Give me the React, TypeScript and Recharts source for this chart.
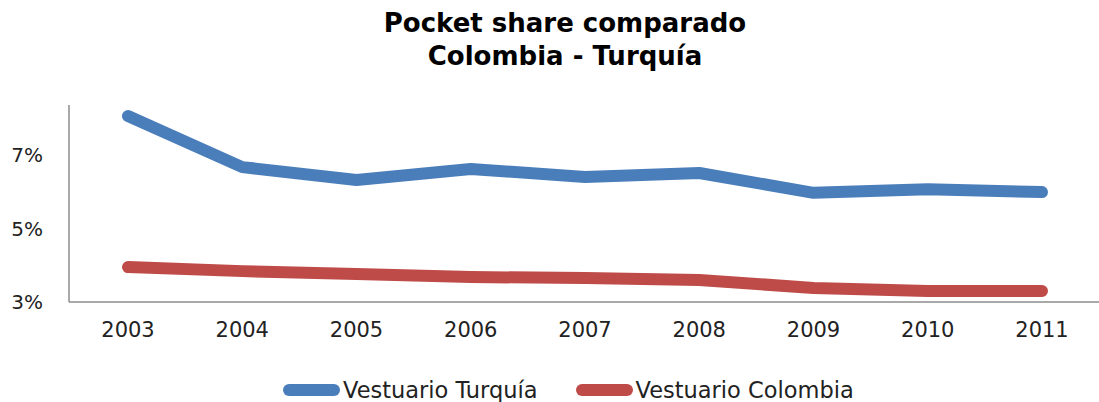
import React from "react";
import { LineChart, Line, XAxis, YAxis } from "recharts";

const years = ["2003", "2004", "2005", "2006", "2007", "2008", "2009", "2010", "2011"];
const turquia = [8.06, 6.67, 6.32, 6.62, 6.4, 6.51, 5.97, 6.07, 5.99];
const colombia = [3.95, 3.84, 3.76, 3.68, 3.65, 3.6, 3.38, 3.3, 3.3];
const yTicks = [3, 5, 7];
const seriesNames = ["Vestuario Turquía", "Vestuario Colombia"];
const seriesColors = ["#4A7EBB", "#BE4B48"];

const data = years.map((y, i) => ({ year: y, turquia: turquia[i], colombia: colombia[i] }));

const FONT = "'DejaVu Sans', Verdana, sans-serif";

export default function App() {
  return (
    <div style={{ position: "absolute", left: 0, top: 0, width: 1099, height: 402, background: "#fff", fontFamily: FONT }}>
      <div
        style={{
          position: "absolute",
          top: 7,
          left: 0,
          width: 1130,
          textAlign: "center",
          fontWeight: "bold",
          fontSize: 26,
          lineHeight: "33px",
          color: "#000",
        }}
      >
        Pocket share comparado
        <br />
        Colombia - Turquía
      </div>
      <LineChart width={1099} height={402} data={data} margin={{ top: 105, right: 0, bottom: 70, left: 0 }}>
        <XAxis
          dataKey="year"
          scale="point"
          height={30}
          padding={{ left: 59, right: 57 }}
          tickLine={false}
          tickSize={0}
          tickMargin={20}
          axisLine={{ stroke: "#8c8c8c", strokeWidth: 1.5 }}
          tick={{ fill: "#222", fontSize: 21, fontFamily: FONT }}
        />
        <YAxis
          width={69}
          domain={[3, 8.36]}
          ticks={yTicks}
          allowDataOverflow
          tickLine={false}
          tickSize={0}
          tickMargin={26}
          tickFormatter={(v: number) => `${v}%`}
          axisLine={{ stroke: "#8c8c8c", strokeWidth: 1.5 }}
          tick={{ fill: "#222", fontSize: 20, fontFamily: FONT }}
        />
        <Line
          dataKey="turquia"
          name={seriesNames[0]}
          stroke={seriesColors[0]}
          strokeWidth={12}
          strokeLinecap="round"
          strokeLinejoin="round"
          dot={false}
          activeDot={false}
          isAnimationActive={false}
        />
        <Line
          dataKey="colombia"
          name={seriesNames[1]}
          stroke={seriesColors[1]}
          strokeWidth={12}
          strokeLinecap="round"
          strokeLinejoin="round"
          dot={false}
          activeDot={false}
          isAnimationActive={false}
        />
      </LineChart>
      <div
        style={{
          position: "absolute",
          top: 376,
          left: 283,
          display: "flex",
          alignItems: "center",
          fontSize: 22.5,
          color: "#222",
          height: 28,
        }}
      >
        {seriesNames.map((n, i) => (
          <div key={n} style={{ display: "flex", alignItems: "center", marginRight: i === 0 ? 38 : 0 }}>
            <div style={{ width: 57, height: 12, borderRadius: 6, background: seriesColors[i], marginRight: 3 }} />
            <span>{n}</span>
          </div>
        ))}
      </div>
    </div>
  );
}
